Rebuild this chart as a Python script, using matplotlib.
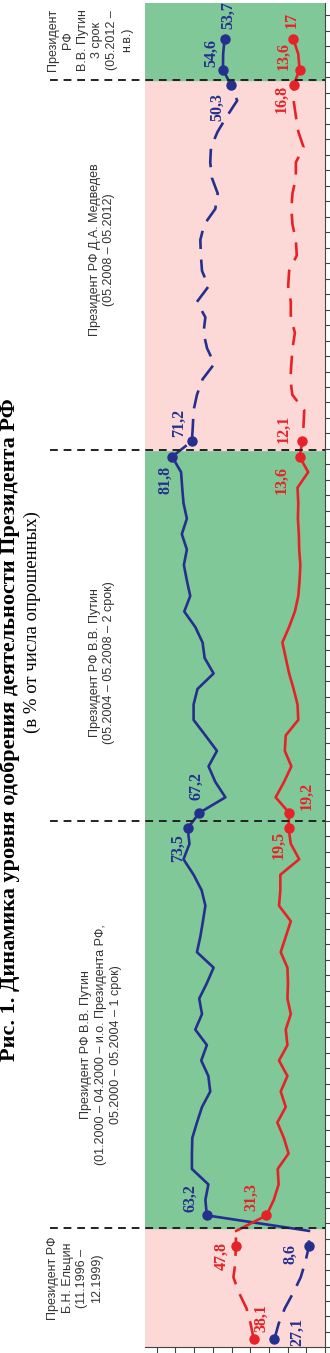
import numpy as np
import matplotlib.pyplot as plt

# approval of the president, % of respondents (one point per survey, 11.1996 .. 2012+)
approve = [27.1, 24.8, 21.5, 17, 13, 10.5, 8.6, 8.6,
           63.2, 64, 62.4, 71.2, 71.2, 71, 68.5, 65.8, 61.4, 62.4, 66.2, 63.2,
           69.4, 65.8, 67.3, 63.2, 59.6, 68.5, 66.7, 65.3, 64, 66, 70.3, 75.7,
           72.5, 73.5, 67.2, 53.3, 58.7, 62.3, 57.8, 64, 70.3, 70.3, 68.2, 59.6,
           64.4, 65.5, 69.4, 75.3, 72.1, 73.9, 75.5, 73.9, 76.6, 73.9, 75.7,
           76.4, 77, 81.8, 71.2, 70.7, 70.3, 68.5, 65.5, 59.2, 63.1, 65, 64,
           68.5, 62.3, 65.8, 66.4, 66.7, 64.6, 58.7, 57.4, 60.5, 61.4, 61, 57.4,
           52.4, 47, 50.3, 54.6, 54.5, 53.7]
disapprove = [38.1, 39.8, 42, 46, 49, 47.9, 47.8, 47.5,
              31.3, 27.4, 24.8, 25.3, 19.5, 22, 25.5, 21, 23.7, 20.1, 24.6, 20.1,
              21, 18.3, 20.1, 19.8, 20.1, 23.7, 21, 18.3, 24.6, 23.9, 23.9, 13.8,
              18.3, 19.5, 19.2, 26.4, 21.9, 18, 21.5, 21, 14.3, 14.7, 16.8, 19.2,
              21, 22.8, 19.2, 16.1, 14.3, 13.6, 13.2, 13.8, 14, 14.5, 14.3,
              14.7, 9, 13.6, 12.1, 11.5, 11.1, 17.5, 18.5, 18, 17.4, 16.1, 18.3,
              18.3, 19.7, 19.2, 15.1, 15.6, 17.4, 18, 17.4, 15.6, 15.6, 11.5, 14.3,
              15.6, 16.8, 16.8, 13.6, 14.3, 17]
marked = [0, 6, 8, 33, 34, 57, 58, 81, 82, 84]
borders = [7.2, 33.5, 57.4, 81.35]
periods = ["Президент РФ\nБ.Н. Ельцин\n(11.1996 –\n12.1999)",
           "Президент РФ В.В. Путин\n(01.2000 – 04.2000 – и.о. Президента РФ,\n05.2000 – 05.2004 – 1 срок)",
           "Президент РФ В.В. Путин\n(05.2004 – 05.2008 – 2 срок)",
           "Президент РФ Д.А. Медведев\n(05.2008 – 05.2012)",
           "Президент\nРФ\nВ.В. Путин\n3 срок\n(05.2012 –\nн.в.)"]

blue = "#25308e"
red = "#e62228"
t = np.arange(len(approve))
a = np.array(approve)
d = np.array(disapprove)

fig = plt.figure(figsize=(3.3, 13.53), dpi=100)
ax = fig.add_axes([145 / 330, 6 / 1353, 180 / 330, 1344 / 1353])
ax.set_xlim(96.3, 0)
ax.set_ylim(-0.4, 86.3)

# background by presidency
edges = [-1] + borders + [90]
bg = ["#fcd8d6", "#80c898", "#80c898", "#fcd8d6", "#80c898"]
for i in range(5):
    ax.axhspan(edges[i], edges[i + 1], color=bg[i], zorder=0)

dash = (0, (7, 4))
segs = [(0, 7, dash), (7, 57, "-"), (57, 81, dash), (81, 84, "-")]
for s, e, ls in segs:
    ax.plot(a[s:e + 1], t[s:e + 1], color=blue, lw=1.9, ls=ls, zorder=3)
    ax.plot(d[s:e + 1], t[s:e + 1], color=red, lw=1.9, ls=ls, zorder=3)
ax.plot(a[marked], t[marked], "o", color=blue, ms=6.5, zorder=4)
ax.plot(d[marked], t[marked], "o", color=red, ms=6.5, zorder=4)

for b in borders:
    ax.plot([-0.53, 1], [b, b], transform=ax.get_yaxis_transform(), clip_on=False,
            color="#222222", lw=1.4, ls=(0, (4, 3)), zorder=5)

# value labels: (value position, time position, text, colour)
labels = [(51.7, 85.5, "53,7", blue), (60.6, 83.1, "54,6", blue), (57.9, 79.6, "50,3", blue),
          (17.8, 85.2, "17", red), (22.3, 82.9, "13,6", red), (23.2, 80.1, "16,8", red),
          (77.9, 59.2, "71,2", blue), (22.3, 58.8, "12,1", red),
          (85.6, 55.5, "81,8", blue), (23.2, 55.5, "13,6", red),
          (68.6, 35.7, "67,2", blue), (78.4, 31.7, "73,5", blue),
          (9.8, 35.1, "19,2", red), (25, 31.9, "19,5", red),
          (72.2, 9.1, "63,2", blue), (39.2, 9.2, "31,3", red),
          (55.2, 5.4, "47,8", red), (18.7, 5.5, "8,6", blue),
          (33.9, 1.35, "38,1", red), (15.1, 0.5, "27,1", blue)]
for x, y, s, c in labels:
    ax.text(x, y, s, color=c, rotation=90, ha="center", va="center",
            family="Liberation Serif", weight="bold", fontsize=11.5, zorder=6)

ax.set_xticks(np.arange(0, 91, 10))
ax.set_yticks(np.arange(-0.5, 86, 1))
ax.tick_params(axis="x", direction="out", length=4, labelbottom=False, color="#444444")
ax.tick_params(axis="y", direction="out", length=4, left=False, right=True,
               labelleft=False, color="#444444")
for side in ["left", "top"]:
    ax.spines[side].set_visible(False)
ax.spines["right"].set_color("#444444")
ax.spines["bottom"].set_color("#444444")

# period captions (figure pixel positions of the rotated chart)
cap_pos = [(75, 1278), (101, 1045), (102, 663), (102, 250), (90, 40)]
for (px, py), s in zip(cap_pos, periods):
    fig.text(px / 330, 1 - py / 1353, s, rotation=90, ha="center", va="center",
             multialignment="center", family="Liberation Sans", fontsize=9,
             color="#333333", linespacing=1.3)

fig.text(10 / 330, 1 - 730 / 1353, "Рис. 1. Динамика уровня одобрения деятельности Президента РФ",
         rotation=90, ha="center", va="center", family="Liberation Serif",
         weight="bold", fontsize=16)
fig.text(32 / 330, 1 - 622 / 1353, "(в % от числа опрошенных)", rotation=90,
         ha="center", va="center", family="Liberation Serif", fontsize=13.5)

fig.savefig("out.png", dpi=100)
